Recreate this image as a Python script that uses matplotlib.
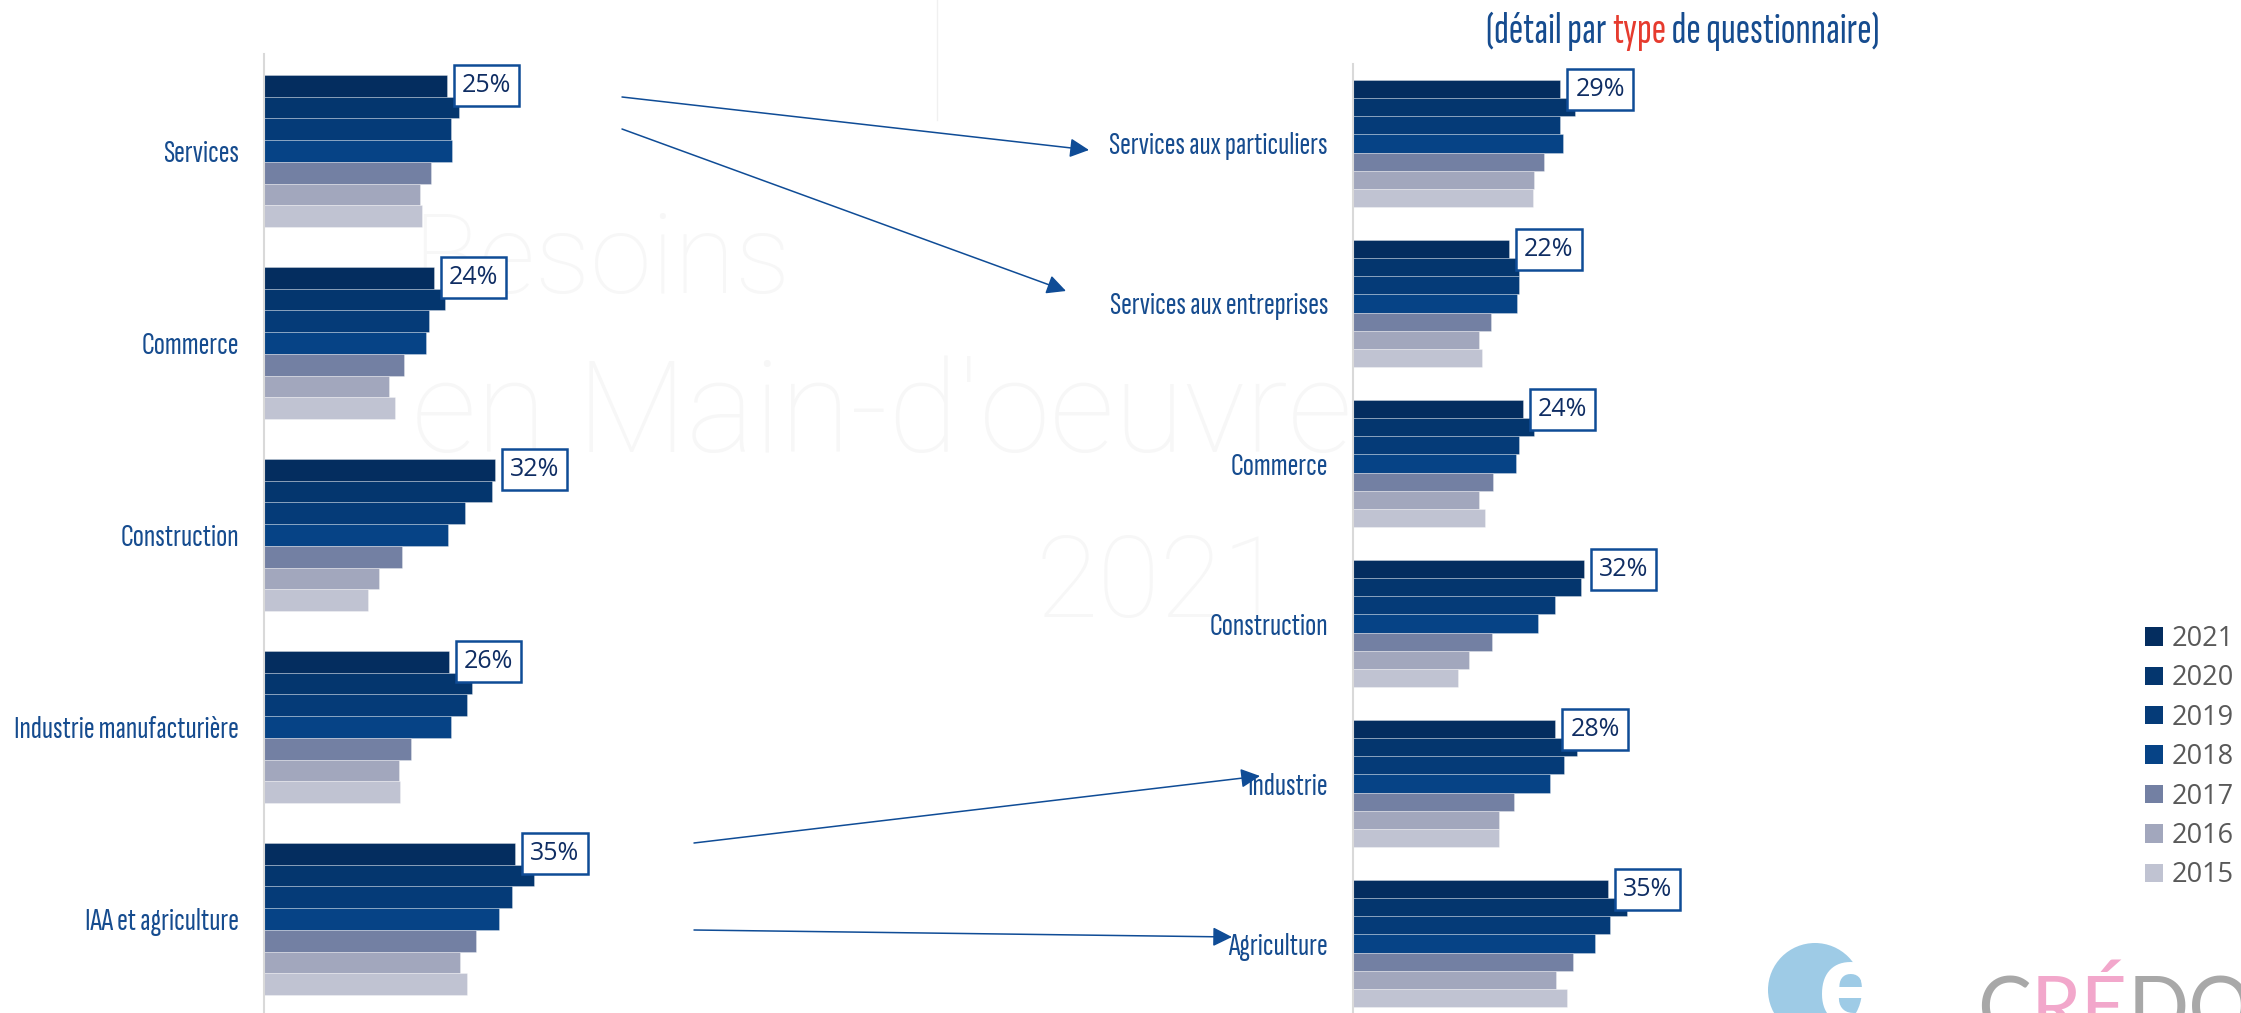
import matplotlib
matplotlib.use("Agg")
import matplotlib.pyplot as plt
import numpy as np
from matplotlib.patches import Circle, Patch
from matplotlib.font_manager import FontProperties, fontManager
from matplotlib.textpath import TextPath

W, H = 2241, 1013
DPI = 100

years = ["2021", "2020", "2019", "2018", "2017", "2016", "2015"]
colors = ["#042D5F", "#04366E", "#053B78", "#064386", "#7380A3", "#A2A7BD", "#C0C3D2"]

# Left chart (by sector)
left_categories = ["Services", "Commerce", "Construction", "Industrie manufacturière", "IAA et agriculture"]
left_2021 = [25.4, 23.6, 32.1, 25.7, 34.9]
left_2020 = [27.1, 25.1, 31.6, 28.9, 37.5]
left_2019 = [26.0, 22.9, 27.9, 28.2, 34.5]
left_2018 = [26.1, 22.5, 25.6, 26.0, 32.6]
left_2017 = [23.2, 19.4, 19.2, 20.4, 29.5]
left_2016 = [21.7, 17.4, 16.0, 18.7, 27.2]
left_2015 = [21.9, 18.2, 14.5, 18.9, 28.2]

# Right chart (by questionnaire type)
right_categories = ["Services aux particuliers", "Services aux entreprises", "Commerce",
                    "Construction", "Industrie", "Agriculture"]
right_2021 = [28.8, 21.7, 23.6, 32.1, 28.1, 35.4]
right_2020 = [30.9, 23.0, 25.1, 31.7, 31.1, 38.0]
right_2019 = [28.7, 23.1, 23.0, 28.1, 29.3, 35.7]
right_2018 = [29.1, 22.8, 22.6, 25.7, 27.4, 33.6]
right_2017 = [26.5, 19.2, 19.5, 19.3, 22.3, 30.5]
right_2016 = [25.1, 17.5, 17.5, 16.1, 20.3, 28.2]
right_2015 = [25.0, 17.9, 18.3, 14.6, 20.3, 29.7]

title_parts = ["(détail par ", "type", " de questionnaire)"]

LABEL_BLUE = "#164C8F"
BOX_BLUE = "#0F4C96"
TXT_NAVY = "#0F2D63"
CAL = ["Open Sans", "DejaVu Sans"]


# ---- pick the narrowest installed regular sans font (stand-in for a condensed display face)
def _wnum(w):
    if isinstance(w, (int, float)):
        return w
    return {"normal": 400, "regular": 400, "book": 400, "medium": 500, "roman": 400}.get(str(w).lower(), 0)


SAMPLE = "Industrie manufacturière"
best = None
for fe in fontManager.ttflist:
    n = fe.name
    if fe.style != "normal" or not (350 <= _wnum(fe.weight) <= 500):
        continue
    if any(k in n for k in ("Mono", "CJK", "Math", "Symbol", "Serif")):
        continue
    if not any(k in n for k in ("Sans", "Roboto", "Lato", "Inter", "Liberation")):
        continue
    try:
        fp = FontProperties(fname=fe.fname)
        wdt = TextPath((0, 0), SAMPLE, prop=fp, size=10).get_extents().width
        cap = TextPath((0, 0), "I", prop=fp, size=10).get_extents().height
        r = wdt / cap
    except Exception:
        continue
    if best is None or r < best[0]:
        best = (r, fe.fname)
NARROW_FILE = best[1] if best else None


def nfp(target_px, text):
    """narrow font properties sized so that `text` is about target_px wide"""
    fp = FontProperties(fname=NARROW_FILE) if NARROW_FILE else FontProperties(family="DejaVu Sans")
    w10 = TextPath((0, 0), text, prop=fp, size=10).get_extents().width / 10.0
    size = target_px / (w10 * DPI / 72.0)
    fp.set_size(size)
    return fp


cat_fp = nfp(222, "Industrie manufacturière")
title_fp = nfp(390, "".join(title_parts))

fig = plt.figure(figsize=(W / DPI, H / DPI), dpi=DPI)
fig.patch.set_facecolor("white")

# background layer
bg = fig.add_axes([0, 0, 1, 1], zorder=0)
bg.set_xlim(0, W)
bg.set_ylim(H, 0)
bg.axis("off")
wm = "#F7F7F7"
bg.text(412, 293, "Besoins", fontsize=80, color=wm, family=["Roboto", "DejaVu Sans"], fontweight="light")
bg.text(412, 452, "en Main-d'oeuvre", fontsize=92, color=wm, family=["Roboto", "DejaVu Sans"], fontweight="light")
bg.text(1036, 617, "2021", fontsize=82, color=wm, family=["Roboto", "DejaVu Sans"], fontweight="light")
bg.plot([937, 937], [0, 120], color="#F0F0F0", lw=1)
# logo
bg.add_patch(Circle((1815, 990), 47, color="#86BEE0", alpha=0.8, lw=0))
bg.text(1850, 1024, "e", fontsize=80, color="white", fontweight="bold", ha="center", va="baseline",
        family=CAL)
c1 = bg.text(1977, 975, "C", fontsize=58, color="#A8A8A8", va="top", ha="left", family=["Lato", "DejaVu Sans"])
c2 = bg.annotate("RÉ", xy=(1, 0), xycoords=c1, va="bottom", ha="left", fontsize=58, color="#F2A7CB",
                 family=["Lato", "DejaVu Sans"], annotation_clip=False)
bg.annotate("DOC", xy=(1, 0), xycoords=c2, va="bottom", ha="left", fontsize=58, color="#A8A8A8",
            family=["Lato", "DejaVu Sans"], annotation_clip=False)

PX_PER_PCT = 7.2
AX_W = 400
h = 0.113


def draw_chart(left_px, top_px, pitch_px, first_center_px, cats, series, label_pad_px):
    n = len(cats)
    ax = fig.add_axes([left_px / W, 0, AX_W / W, (H - top_px) / H], zorder=1)
    ax.patch.set_alpha(0)
    top_val = -(first_center_px - top_px) / pitch_px
    bottom_val = top_val + (H - top_px) / pitch_px
    ax.set_ylim(bottom_val, top_val)
    ax.set_xlim(0, AX_W / PX_PER_PCT)
    pos = np.arange(n)
    for i, (vals, col) in enumerate(zip(series, colors)):
        ax.barh(pos + (i - 3) * h, vals, height=h, color=col,
                edgecolor=(1, 1, 1, 0.35), linewidth=0.6, zorder=2)
    for p, v in zip(pos, series[0]):
        ax.annotate(f"{round(v)}%", xy=(v, p - 3 * h), xytext=(10.8, 0), textcoords="offset points",
                    ha="left", va="center", fontsize=18, color=TXT_NAVY, family=CAL,
                    bbox=dict(boxstyle="square,pad=0.32", fc="white", ec=BOX_BLUE, lw=1.8),
                    annotation_clip=False, zorder=5)
    ax.set_yticks(pos)
    ax.set_yticklabels(cats, fontproperties=cat_fp, color=LABEL_BLUE)
    ax.tick_params(axis="y", length=0, pad=label_pad_px * 72 / DPI)
    ax.set_xticks([])
    for s in ["top", "right", "bottom"]:
        ax.spines[s].set_visible(False)
    ax.spines["left"].set_color("#D9D9D9")
    ax.spines["left"].set_linewidth(1.5)
    return ax


left_series = [left_2021, left_2020, left_2019, left_2018, left_2017, left_2016, left_2015]
right_series = [right_2021, right_2020, right_2019, right_2018, right_2017, right_2016, right_2015]

axL = draw_chart(264, 54, 192, 151, left_categories, left_series, 25)
axR = draw_chart(1353, 64, 160, 143.5, right_categories, right_series, 25)

# legend
handles = [Patch(facecolor=c, edgecolor="none") for c in colors]
fig.legend(handles, years, loc="upper left", bbox_to_anchor=(2145 / W, 1 - 625 / H),
           frameon=False, prop=dict(family=CAL, size=19.5), labelcolor="#595959",
           handlelength=0.667, handleheight=0.667, handletextpad=0.33, labelspacing=0.42,
           borderpad=0, borderaxespad=0)

# overlay: title + arrows
ov = fig.add_axes([0, 0, 1, 1], zorder=3)
ov.set_xlim(0, W)
ov.set_ylim(H, 0)
ov.axis("off")
ov.patch.set_alpha(0)

t1 = ov.text(1486, 31, title_parts[0], fontproperties=title_fp, color=LABEL_BLUE, ha="left", va="center")
t2 = ov.annotate(title_parts[1], xy=(1, 0), xycoords=t1, va="bottom", ha="left",
                 fontproperties=title_fp, color="#E63B2E", annotation_clip=False)
ov.annotate(title_parts[2], xy=(1, 0), xycoords=t2, va="bottom", ha="left",
            fontproperties=title_fp, color=LABEL_BLUE, annotation_clip=False)

arrows = [((622, 97), (1089, 150)), ((622, 129), (1066, 291)),
          ((694, 843), (1260, 776)), ((694, 930), (1232, 937))]
for (x0, y0), (x1, y1) in arrows:
    ov.annotate("", xy=(x1, y1), xytext=(x0, y0),
                arrowprops=dict(arrowstyle="-|>,head_length=0.9,head_width=0.45", color=BOX_BLUE,
                                lw=1.1, mutation_scale=13, shrinkA=0, shrinkB=0))

fig.savefig("out.png", dpi=DPI, facecolor="white")
